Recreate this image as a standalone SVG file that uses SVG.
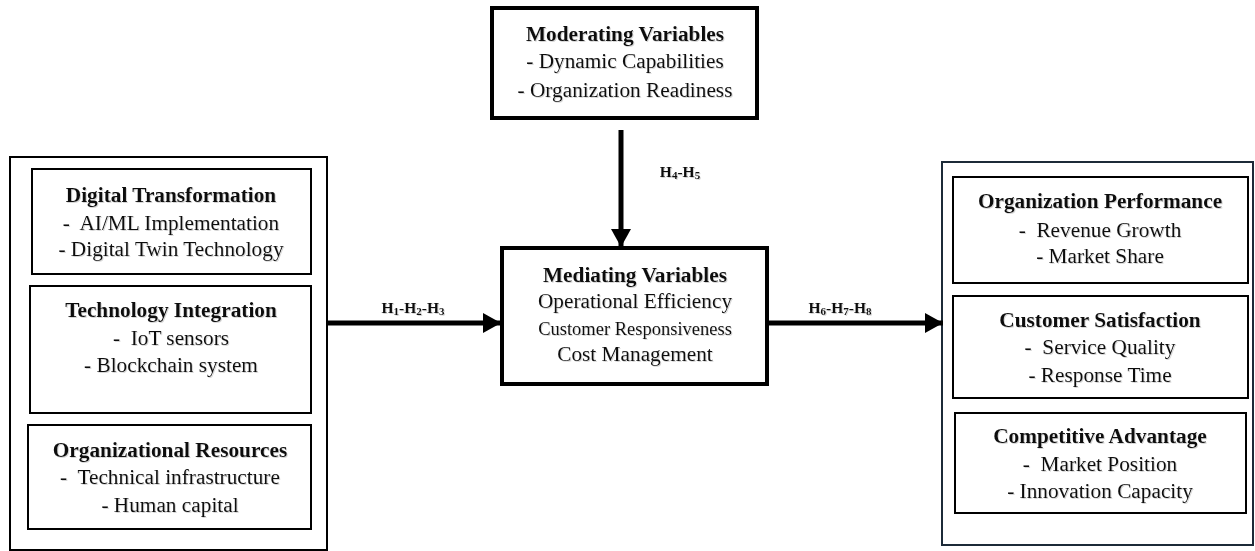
<svg xmlns="http://www.w3.org/2000/svg" width="1255" height="551" viewBox="0 0 1255 551">
  <defs>
    <style>
      text { font-family: "Liberation Serif", "Times New Roman", serif; fill: #111; text-anchor: middle; white-space: pre; filter: url(#soft); }
      .t { font-size: 21.3px; font-weight: bold; }
      .i { font-size: 21.3px; }
      .s { font-size: 18.5px; }
      .h { font-size: 15.5px; font-weight: bold; }
      .sub { font-size: 11px; }
      .outer { fill: #fff; stroke: #000; stroke-width: 2; }
      .outerR { fill: #fff; stroke: #1c2a38; stroke-width: 2; }
      .inner { fill: #fff; stroke: #000; stroke-width: 2; }
      .thick { fill: #fff; stroke: #000; stroke-width: 4; }
      .conn { stroke: #000; stroke-width: 5; fill: none; }
    </style>
    <!-- faint shadow under the lettering -->
    <filter id="soft" x="-5%" y="-20%" width="110%" height="150%">
      <feDropShadow dx="1" dy="1" stdDeviation="0.6" flood-color="#888" flood-opacity="0.35"/>
    </filter>
    <marker id="arrow" markerUnits="userSpaceOnUse" markerWidth="18" markerHeight="20" refX="18" refY="10" orient="auto">
      <path d="M0,0 L18,10 L0,20 Z" fill="#000"/>
    </marker>
  </defs>

  <rect width="1255" height="551" fill="#fff"/>

  <!-- Independent variables -->
  <g id="independent">
    <rect class="outer" x="10" y="157" width="317" height="393"/>
    <g id="digital-transformation">
      <rect class="inner" x="32" y="169" width="279" height="105"/>
      <text class="t" x="171" y="202">Digital Transformation</text>
      <text class="i" x="171" y="230">-  AI/ML Implementation</text>
      <text class="i" x="171" y="256">- Digital Twin Technology</text>
    </g>
    <g id="technology-integration">
      <rect class="inner" x="30" y="286" width="281" height="127"/>
      <text class="t" x="171" y="317">Technology Integration</text>
      <text class="i" x="171" y="345">-  IoT sensors</text>
      <text class="i" x="171" y="372">- Blockchain system</text>
    </g>
    <g id="organizational-resources">
      <rect class="inner" x="28" y="425" width="283" height="104"/>
      <text class="t" x="170" y="457">Organizational Resources</text>
      <text class="i" x="170" y="484">-  Technical infrastructure</text>
      <text class="i" x="170" y="512">- Human capital</text>
    </g>
  </g>

  <!-- Moderating variables -->
  <g id="moderating">
    <rect class="thick" x="492" y="8" width="265" height="110"/>
    <text class="t" x="625" y="41">Moderating Variables</text>
    <text class="i" x="625" y="68">- Dynamic Capabilities</text>
    <text class="i" x="625" y="97">- Organization Readiness</text>
  </g>

  <!-- Mediating variables -->
  <g id="mediating">
    <rect class="thick" x="502" y="248" width="265" height="136"/>
    <text class="t" x="635" y="282">Mediating Variables</text>
    <text class="i" x="635" y="308">Operational Efficiency</text>
    <text class="s" x="635" y="335">Customer Responsiveness</text>
    <text class="i" x="635" y="361">Cost Management</text>
  </g>

  <!-- Outcome variables -->
  <g id="outcomes">
    <rect class="outerR" x="942" y="162" width="311" height="383"/>
    <g id="organization-performance">
      <rect class="inner" x="953" y="177" width="295" height="106"/>
      <text class="t" x="1100" y="208">Organization Performance</text>
      <text class="i" x="1100" y="237">-  Revenue Growth</text>
      <text class="i" x="1100" y="263">- Market Share</text>
    </g>
    <g id="customer-satisfaction">
      <rect class="inner" x="953" y="296" width="295" height="102"/>
      <text class="t" x="1100" y="327">Customer Satisfaction</text>
      <text class="i" x="1100" y="354">-  Service Quality</text>
      <text class="i" x="1100" y="382">- Response Time</text>
    </g>
    <g id="competitive-advantage">
      <rect class="inner" x="955" y="413" width="291" height="100"/>
      <text class="t" x="1100" y="443">Competitive Advantage</text>
      <text class="i" x="1100" y="471">-  Market Position</text>
      <text class="i" x="1100" y="498">- Innovation Capacity</text>
    </g>
  </g>

  <!-- Hypothesised paths -->
  <g id="connectors">
    <line class="conn" x1="327" y1="323" x2="501" y2="323" marker-end="url(#arrow)"/>
    <line class="conn" x1="621" y1="130" x2="621" y2="247" marker-end="url(#arrow)"/>
    <line class="conn" x1="767" y1="323" x2="943" y2="323" marker-end="url(#arrow)"/>
    <text class="h" x="413" y="313">H<tspan class="sub" dy="2">1</tspan><tspan dy="-2">-H</tspan><tspan class="sub" dy="2">2</tspan><tspan dy="-2">-H</tspan><tspan class="sub" dy="2">3</tspan></text>
    <text class="h" x="680" y="177">H<tspan class="sub" dy="2">4</tspan><tspan dy="-2">-H</tspan><tspan class="sub" dy="2">5</tspan></text>
    <text class="h" x="840" y="313">H<tspan class="sub" dy="2">6</tspan><tspan dy="-2">-H</tspan><tspan class="sub" dy="2">7</tspan><tspan dy="-2">-H</tspan><tspan class="sub" dy="2">8</tspan></text>
  </g>
</svg>
